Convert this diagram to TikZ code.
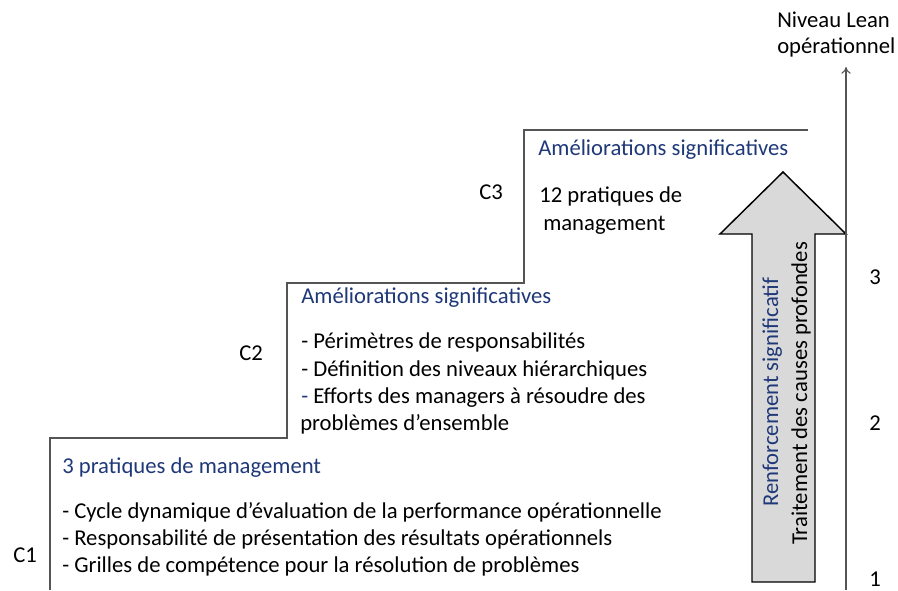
\documentclass[tikz,border=0pt]{standalone}
\usepackage{fontspec}
\setmainfont{Carlito}
\usetikzlibrary{arrows.meta}
\definecolor{titleblue}{RGB}{31,56,120}
\definecolor{stepgray}{RGB}{85,85,85}
\definecolor{arrowfill}{RGB}{217,217,217}
\tikzset{
  txt/.style={anchor=base west, inner sep=0pt, font=\fontsize{17}{20}\selectfont},
  ttl/.style={txt, text=titleblue},
  stepline/.style={draw=stepgray, line width=1pt},
}
\begin{document}
\begin{tikzpicture}[x=0.75pt,y=-0.75pt]
      \useasboundingbox (0,0) rectangle (898,590);
      % staircase corners
      \path
        (50,590) coordinate (s0)
        (50,438) coordinate (s1)
        (287,438) coordinate (s2)
        (287,283) coordinate (s3)
        (524,283) coordinate (s4)
        (524,130) coordinate (s5)
        (808,130) coordinate (s6);
      \draw[stepline] (s0) -- (s1) -- (s2) -- (s3) -- (s4) -- (s5) -- (s6);
      % levels
      \node[txt] (c1) at (13,562) {C1};
      \node[txt] (c2) at (239,360) {C2};
      \node[txt] (c3) at (479,199) {C3};
      % step 1
      \node[ttl] (t1) at (62,473) {3 pratiques de management};
      \node[txt] (b11) at (62,518) {- Cycle dynamique d’évaluation de la performance opérationnelle};
      \node[txt] (b12) at (62,545) {- Responsabilité de présentation des résultats opérationnels};
      \node[txt] (b13) at (62,572) {- Grilles de compétence pour la résolution de problèmes};
      % step 2
      \node[ttl] (t2) at (301,303) {Améliorations significatives};
      \node[txt] (b21) at (301,348) {- Périmètres de responsabilités};
      \node[txt] (b22) at (301,376) {- Définition des niveaux hiérarchiques};
      \node[txt] (b23) at (301,403) {\textcolor{titleblue}{-} Efforts des managers à résoudre des};
      \node[txt] (b24) at (300,430) {problèmes d’ensemble};
      % step 3
      \node[ttl] (t3) at (538,155) {Améliorations significatives};
      \node[txt] (b31) at (539,202) {12 pratiques de};
      \node[txt] (b32) at (543,230) {management};
      % big arrow
      \path
        (752,582) coordinate (a0)
        (752,234) coordinate (a1)
        (720,234) coordinate (a2)
        (783,172) coordinate (a3)
        (846,234) coordinate (a4)
        (815,234) coordinate (a5)
        (815,582) coordinate (a6);
      \draw[fill=arrowfill, line width=1.1pt] (a0) -- (a1) -- (a2) -- (a3) -- (a4) -- (a5) -- (a6) -- cycle;
      \node[ttl, rotate=90] (r1) at (778,507) {Renforcement significatif};
      \node[txt, rotate=90] (r2) at (807,545) {Traitement des causes profondes};
      % axis
      \coordinate (ax0) at (846,590);
      \coordinate (ax1) at (846,67);
      \draw[stepgray, line width=0.8pt, -{To[length=5pt,width=7pt]}] (ax0) -- (ax1);
      \node[txt] (lv1) at (777,27) {Niveau Lean};
      \node[txt] (lv2) at (777,53) {opérationnel};
      \node[txt] (n3) at (869,284) {3};
      \node[txt] (n2) at (869,430) {2};
      \node[txt] (n1) at (869,586) {1};
    \end{tikzpicture}
\end{document}
